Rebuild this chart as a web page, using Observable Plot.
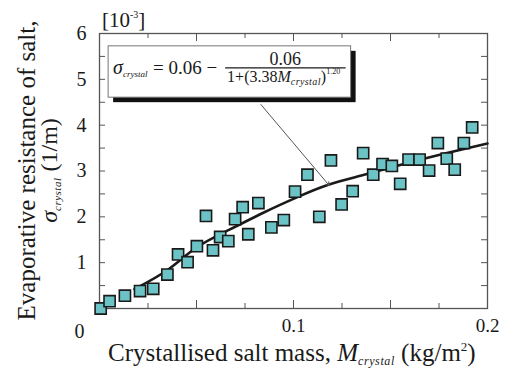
<!DOCTYPE html>
<html><head><meta charset="utf-8">
<script src="https://cdn.jsdelivr.net/npm/d3@7"></script>
<script src="https://cdn.jsdelivr.net/npm/@observablehq/plot@0.6"></script>
<style>
body{margin:0;background:#fff}
#chart svg{font-family:"Liberation Serif","Times New Roman",serif}
</style>
</head><body><div id="chart"></div>
<script>
// measured points: crystallised salt mass (kg/m2) and evaporative resistance (x10^-3 1/m)
const massX = [0.0006,0.0052,0.0131,0.0209,0.0277,0.0350,0.0405,0.0454,0.0502,0.0549,0.0585,0.0622,0.0664,0.0699,0.0738,0.0767,0.0819,0.0886,0.0950,0.1008,0.1072,0.1133,0.1193,0.1248,0.1305,0.1359,0.1411,0.1459,0.1507,0.1550,0.1593,0.1650,0.1699,0.1744,0.1790,0.1831,0.1878,0.1921];
const resistanceY = [0.0,0.16,0.28,0.38,0.43,0.74,1.18,1.01,1.36,2.02,1.27,1.56,1.47,1.95,2.21,1.62,2.30,1.77,1.93,2.55,2.92,2.00,3.23,2.27,2.56,3.39,2.92,3.15,3.11,2.72,3.25,3.25,3.01,3.61,3.27,3.03,3.61,3.95];
// fitted curve
const fitX = [0.018,0.035,0.050,0.067,0.085,0.102,0.118,0.135,0.154,0.178,0.200];
const fitY = [0.42,0.84,1.33,1.72,2.10,2.43,2.70,2.90,3.12,3.38,3.60];
// ticks
const xTickLabels = [0.1, 0.2];
const yTickLabels = [1, 2, 3, 4, 5, 6];
const xMajorTicks = [0.05, 0.1, 0.15];
const xMinorTicks = [0.025, 0.075, 0.125, 0.175];
const yTicks = [0.5,1,1.5,2,2.5,3,3.5,4,4.5,5,5.5];
// annotation (data coordinates)
const formulaBox = [{x1: 0.0047, x2: 0.1297, y1: 4.60, y2: 5.72}];
const formulaArrow = [{x1: 0.0832, y1: 4.45, x2: 0.1185, y2: 2.68}];

const points = massX.map((x, i) => ({x, y: resistanceY[i]}));
const fit = fitX.map((x, i) => ({x, y: fitY[i]}));

const W = 506, H = 369, mL = 99, mR = 19, mT = 33, mB = 61;
const innerW = W - mL - mR, innerH = H - mT - mB;
const ink = "#1a1a1a", frameCol = "#555";
const font = "Liberation Serif, serif";

const plot = Plot.plot({
  width: W, height: H,
  marginLeft: mL, marginRight: mR, marginTop: mT, marginBottom: mB,
  style: {fontFamily: font, fontSize: "20px", color: ink, background: "#fff"},
  x: {domain: [0, 0.2]},
  y: {domain: [0, 6]},
  marks: [
    // inward ticks on all four sides
    Plot.tickX(xMajorTicks, {x: d => d, insetTop: innerH - 8, stroke: frameCol}),
    Plot.tickX(xMajorTicks, {x: d => d, insetBottom: innerH - 8, stroke: frameCol}),
    Plot.tickX(xMinorTicks, {x: d => d, insetTop: innerH - 5, stroke: frameCol}),
    Plot.tickX(xMinorTicks, {x: d => d, insetBottom: innerH - 5, stroke: frameCol}),
    Plot.tickY(yTicks, {y: d => d, insetRight: innerW - 6, stroke: frameCol}),
    Plot.tickY(yTicks, {y: d => d, insetLeft: innerW - 6, stroke: frameCol}),
    Plot.axisY({ticks: yTickLabels, tickSize: 0, tickPadding: 13, tickFormat: d => String(d), label: null, fontSize: 20, fontFamily: font}),
    Plot.axisX({ticks: xTickLabels, tickSize: 0, tickPadding: 10, tickFormat: d => String(d), label: null, fontSize: 19, fontFamily: font}),
    Plot.text([0], {x: d => d, y: 0, text: d => String(d), dx: -20, dy: 23, fontSize: 20, fontFamily: font, fill: ink}),
    Plot.frame({stroke: frameCol, strokeWidth: 1.3}),
    // fitted curve
    Plot.line(fit, {x: "x", y: "y", stroke: ink, strokeWidth: 2.6, curve: "natural"}),
    // measured squares
    Plot.dot(points, {x: "x", y: "y", symbol: "square", r: 6.3, fill: "#6cc3c6", stroke: ink, strokeWidth: 1.6}),
    // formula box with shadow
    Plot.rect(formulaBox, {x1: "x1", x2: "x2", y1: "y1", y2: "y2", fill: "#111", dx: 5, dy: 5}),
    Plot.rect(formulaBox, {x1: "x1", x2: "x2", y1: "y1", y2: "y2", fill: "#fff", stroke: "#777", strokeWidth: 1}),
    Plot.arrow(formulaArrow, {x1: "x1", y1: "y1", x2: "x2", y2: "y2", stroke: "#555", strokeWidth: 1, headLength: 6, bend: false})
  ]
});

document.getElementById("chart").appendChild(plot);

// rich text (subscripts/superscripts) placed with the plot's scales
const svg = d3.select(plot);
const xs = plot.scale("x"), ys = plot.scale("y");

function rich(g, parts) {
  if (!g.attr("text-anchor")) g.attr("text-anchor", "start");
  parts.forEach(p => {
    const t = g.append("tspan").text(p.t);
    if (p.i) t.attr("font-style", "italic");
    if (p.s) t.attr("font-size", p.s);
    if (p.dy) t.attr("dy", p.dy);
    if (p.ls) t.attr("letter-spacing", p.ls);
  });
  return g;
}

// formula inside the box
const bx = xs.apply(formulaBox[0].x1), by = ys.apply(formulaBox[0].y2), bx2 = xs.apply(formulaBox[0].x2);
const fg = svg.append("g").attr("font-family", font).attr("fill", ink).attr("text-anchor", "start");
rich(fg.append("text").attr("x", bx + 5).attr("y", by + 28).attr("font-size", 20), [
  {t: "σ", i: true},
  {t: "crystal", i: true, s: 9, dy: 3}
]);
fg.append("text").attr("x", bx + 45).attr("y", by + 28).attr("font-size", 19).attr("text-anchor", "start").text("= 0.06 −");
fg.append("line").attr("x1", bx + 117).attr("x2", bx2 - 5).attr("y1", by + 22).attr("y2", by + 22)
  .attr("stroke", ink).attr("stroke-width", 1.1);
fg.append("text").attr("x", (bx + 117 + bx2 - 5) / 2).attr("y", by + 19).attr("text-anchor", "middle")
  .attr("font-size", 18).text("0.06");
rich(fg.append("text").attr("x", bx + 119).attr("y", by + 36).attr("font-size", 16), [
  {t: "1+(3.38"},
  {t: "M", i: true},
  {t: "crystal", i: true, s: 10, dy: 3, ls: 0.4},
  {t: ")", dy: -3},
  {t: "1.20", s: 8, dy: -8}
]);

// x-axis title
rich(svg.append("text").attr("x", 108).attr("y", H - 8).attr("text-anchor", "start").attr("font-family", font).attr("font-size", 25).attr("fill", ink), [
  {t: "Crystallised salt mass, "},
  {t: "M", i: true},
  {t: "crystal", i: true, s: 12, dy: 4, ls: 0.6},
  {t: " (kg/m", dy: -4},
  {t: "2", s: 13, dy: -10},
  {t: ")", dy: 10}
]);

// y-axis title (two lines)
const cy = mT + innerH / 2;
svg.append("text").attr("transform", `translate(35,${cy}) rotate(-90)`).attr("text-anchor", "middle")
  .attr("font-family", font).attr("font-size", 25).attr("fill", ink).text("Evaporative resistance of salt,");
rich(svg.append("text").attr("transform", `translate(57,${cy}) rotate(-90)`).attr("text-anchor", "middle")
  .attr("font-family", font).attr("font-size", 24).attr("fill", ink), [
  {t: "σ", i: true},
  {t: "crystal", i: true, s: 11, dy: 4, ls: 0.5},
  {t: " (1/m)", dy: -4}
]);

// unit multiplier
rich(svg.append("text").attr("x", mL + 3).attr("y", mT - 6).attr("text-anchor", "start").attr("font-family", font).attr("font-size", 21).attr("fill", ink), [
  {t: "[10"},
  {t: "-3", s: 10, dy: -9},
  {t: "]", dy: 9}
]);
</script>
</body></html>
